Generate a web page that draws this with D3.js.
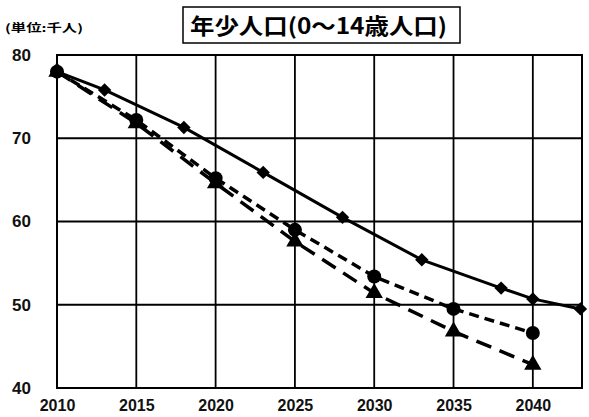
<!DOCTYPE html>
<html><head><meta charset="utf-8">
<script src="https://cdn.jsdelivr.net/npm/d3@7"></script>
<style>
html,body{margin:0;padding:0;background:#fff;}
svg{display:block;}
</style></head>
<body>
<svg id="c" width="589" height="417"></svg>
<script>
const titleText = "年少人口(0～14歳人口)";
const unitText = "(単位:千人)";
const xTicks = [2010, 2015, 2020, 2025, 2030, 2035, 2040];
const yTicks = [40, 50, 60, 70, 80];

const solidYears = [2010, 2013, 2018, 2023, 2028, 2033, 2038, 2040, 2043];
const solidValues = [78.0, 75.8, 71.3, 65.9, 60.5, 55.4, 52.0, 50.7, 49.5];

const circleYears = [2010, 2015, 2020, 2025, 2030, 2035, 2040];
const circleValues = [78.0, 72.2, 65.2, 59.0, 53.4, 49.5, 46.6];

const triYears = [2010, 2015, 2020, 2025, 2030, 2035, 2040];
const triValues = [78.0, 71.8, 64.6, 57.6, 51.4, 46.8, 42.8];

const svg = d3.select("#c");
const L = 57, R = 582, T = 55, B = 388;
const x = d3.scaleLinear().domain([2010, 2043.1]).range([L, R]);
const y = d3.scaleLinear().domain([40, 80]).range([B, T]);

// gridlines
svg.append("g").selectAll("line").data(xTicks.slice(1)).join("line")
  .attr("x1", d => x(d)).attr("x2", d => x(d)).attr("y1", T).attr("y2", B)
  .attr("stroke", "#000").attr("stroke-width", 1.8);
svg.append("g").selectAll("line").data(yTicks.slice(1, -1)).join("line")
  .attr("x1", L).attr("x2", R).attr("y1", d => y(d)).attr("y2", d => y(d))
  .attr("stroke", "#000").attr("stroke-width", 1.8);
svg.append("rect").attr("x", L).attr("y", T).attr("width", R - L).attr("height", B - T)
  .attr("fill", "none").attr("stroke", "#000").attr("stroke-width", 2);

// axes labels
const xAxis = d3.axisBottom(x).tickValues(xTicks).tickFormat(d3.format("d")).tickSize(0).tickPadding(12);
const gx = svg.append("g").attr("transform", `translate(0,${B})`).call(xAxis);
gx.select(".domain").remove();
gx.selectAll("text").attr("font-family", "Liberation Sans, Arial, sans-serif")
  .attr("font-weight", "bold").attr("font-size", 16).attr("fill", "#111");

const yAxis = d3.axisLeft(y).tickValues(yTicks).tickSize(0).tickPadding(26);
const gy = svg.append("g").attr("transform", `translate(${L},0)`).call(yAxis);
gy.select(".domain").remove();
gy.selectAll("text").attr("font-family", "Liberation Sans, Arial, sans-serif")
  .attr("font-weight", "bold").attr("font-size", 17).attr("fill", "#111");

// lines
const mk = (xs, vs) => xs.map((d, i) => [x(d), y(vs[i])]);
const line = d3.line();
svg.append("path").attr("d", line(mk(triYears, triValues))).attr("fill", "none")
  .attr("stroke", "#000").attr("stroke-width", 3.5).attr("stroke-dasharray", "16,9");
svg.append("path").attr("d", line(mk(circleYears, circleValues))).attr("fill", "none")
  .attr("stroke", "#000").attr("stroke-width", 3.5).attr("stroke-dasharray", "10,6");
svg.append("path").attr("d", line(mk(solidYears, solidValues))).attr("fill", "none")
  .attr("stroke", "#000").attr("stroke-width", 3);

// markers
svg.append("g").selectAll("path").data(mk(triYears, triValues)).join("path")
  .attr("transform", d => `translate(${d[0]},${d[1]})`)
  .attr("d", d3.symbol().type(d3.symbolTriangle).size(130)).attr("fill", "#000");
svg.append("g").selectAll("circle").data(mk(circleYears, circleValues)).join("circle")
  .attr("cx", d => d[0]).attr("cy", d => d[1]).attr("r", 7).attr("fill", "#000");
svg.append("g").selectAll("path").data(mk(solidYears, solidValues)).join("path")
  .attr("transform", d => `translate(${d[0]},${d[1]}) rotate(45)`)
  .attr("d", d3.symbol().type(d3.symbolSquare).size(90)).attr("fill", "#000");

// title
svg.append("rect").attr("x", 183).attr("y", 7).attr("width", 277).attr("height", 36)
  .attr("fill", "#fff").attr("stroke", "#000").attr("stroke-width", 1.5);
svg.append("text").attr("x", 190).attr("y", 34).attr("textLength", 257).attr("lengthAdjust", "spacingAndGlyphs")
  .attr("font-family", "Noto Sans CJK JP, sans-serif").attr("font-weight", "bold").attr("font-size", 22)
  .attr("fill", "#000").text(titleText);
svg.append("text").attr("x", 5).attr("y", 32).attr("textLength", 78).attr("lengthAdjust", "spacingAndGlyphs")
  .attr("font-family", "Noto Sans CJK JP, sans-serif").attr("font-weight", "bold").attr("font-size", 11)
  .attr("fill", "#000").text(unitText);
</script>
</body></html>
